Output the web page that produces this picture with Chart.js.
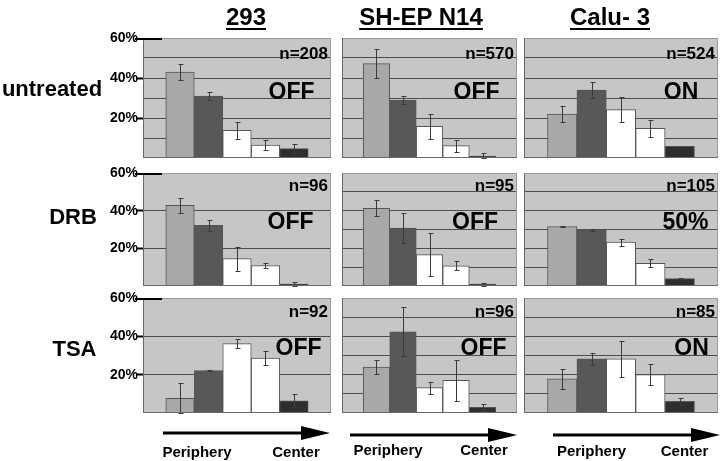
<!DOCTYPE html>
<html>
<head>
<meta charset="utf-8">
<script src="https://cdn.jsdelivr.net/npm/chart.js@4/dist/chart.umd.min.js"></script>
<style>
  html, body { margin: 0; padding: 0; background: #fff; }
  #fig { position: relative; width: 720px; height: 461px; overflow: hidden;
         font-family: "Liberation Sans", Arial, sans-serif; font-weight: bold; color: #000; }
  #fig canvas { position: absolute; }
  .txt { position: absolute; white-space: nowrap; line-height: 1; transform: translate(-50%, -50%); }
  .head { font-size: 24px; text-decoration: underline; text-decoration-thickness: 2px; text-underline-offset: 3px; }
  .row { font-size: 22px; }
  .n { font-size: 17px; }
  .state { font-size: 23px; }
  .axis { font-size: 15px; }
  svg { position: absolute; left: 0; top: 0; }
</style>
</head>
<body>
<div id="fig"></div>
<script>
// bins run from the periphery of the nucleus to its center
const bins = [0, 1, 2, 3, 4];
const cellLines = ['293', 'SH-EP N14', 'Calu- 3'];
const treatments = ['untreated', 'DRB', 'TSA'];
const binColors = ['#a8a8a8', '#585858', '#ffffff', '#ffffff', '#2e2e2e'];

// percent of signals per bin, and error
const untreated293 = [43, 31, 13.8, 6.5, 4.7];
const untreated293Err = [4, 2.2, 4.2, 2.5, 2.3];
const untreatedSHEP = [47.2, 29, 15.8, 6.2, 1];
const untreatedSHEPErr = [7.2, 1.9, 6.4, 3, 1.5];
const untreatedCalu = [22, 34, 24.2, 14.8, 5.8];
const untreatedCaluErr = [3.9, 4.2, 6.2, 4.2, 0];

const drb293 = [42.8, 32.2, 14.5, 10.8, 1];
const drb293Err = [4, 2.8, 6.4, 1.4, 1];
const drbSHEP = [41.2, 30.7, 16.7, 10.7, 1];
const drbSHEPErr = [4.2, 8, 11.4, 2.4, 0.8];
const drbCalu = [31.6, 29.8, 23.3, 12.1, 3.9];
const drbCaluErr = [0.3, 0.4, 1.8, 2, 0.3];

const tsa293 = [7.7, 22.1, 36.2, 28.7, 6.4];
const tsa293Err = [7.8, 0.4, 2.4, 3.8, 3.4];
const tsaSHEP = [24, 42.4, 13.2, 17, 3];
const tsaSHEPErr = [3.9, 12.7, 3.2, 10.5, 1.8];
const tsaCalu = [17.8, 28.2, 28.2, 20, 6.1];
const tsaCaluErr = [5.4, 3.1, 9.6, 5.6, 1.7];

const nUntreated = [208, 570, 524];
const nDRB = [96, 95, 105];
const nTSA = [92, 96, 85];
const stateUntreated = ['OFF', 'OFF', 'ON'];
const stateDRB = ['OFF', 'OFF', '50%'];
const stateTSA = ['OFF', 'OFF', 'ON'];

const yMax = 60;
const yStep = 10;

const rows = [
  { vals: [untreated293, untreatedSHEP, untreatedCalu], errs: [untreated293Err, untreatedSHEPErr, untreatedCaluErr], n: nUntreated, state: stateUntreated },
  { vals: [drb293, drbSHEP, drbCalu], errs: [drb293Err, drbSHEPErr, drbCaluErr], n: nDRB, state: stateDRB },
  { vals: [tsa293, tsaSHEP, tsaCalu], errs: [tsa293Err, tsaSHEPErr, tsaCaluErr], n: nTSA, state: stateTSA }
];

// panel geometry
const panelLeft = [143, 342, 524];
const panelRight = [331, 517, 718];
const panelTop = [38, 173, 298];
const panelBottom = [158, 286, 413];
const axisW = 43;
const pad = 10;

const fig = document.getElementById('fig');

function addText(cls, text, x, y) {
  const d = document.createElement('div');
  d.className = 'txt ' + cls;
  d.textContent = text;
  d.style.left = x + 'px';
  d.style.top = y + 'px';
  fig.appendChild(d);
}

const panelBg = {
  id: 'panelBg',
  beforeDraw(chart) {
    const { ctx, chartArea: a } = chart;
    ctx.save();
    ctx.fillStyle = '#c6c6c6';
    ctx.fillRect(a.left, a.top, a.right - a.left, a.bottom - a.top);
    ctx.restore();
  },
  afterDraw(chart, args, opts) {
    const { ctx, chartArea: a } = chart;
    ctx.save();
    ctx.lineWidth = 1;
    ctx.strokeStyle = '#9a9a9a';
    ctx.beginPath();
    ctx.moveTo(a.left, a.top + 0.5); ctx.lineTo(a.right, a.top + 0.5);
    ctx.moveTo(a.right - 0.5, a.top); ctx.lineTo(a.right - 0.5, a.bottom);
    ctx.stroke();
    ctx.strokeStyle = '#6a6a6a';
    ctx.beginPath();
    ctx.moveTo(a.left + 0.5, a.top); ctx.lineTo(a.left + 0.5, a.bottom);
    ctx.moveTo(a.left, a.bottom - 0.5); ctx.lineTo(a.right, a.bottom - 0.5);
    ctx.stroke();
    if (opts.firstCol) {
      // long 60% tick
      ctx.strokeStyle = '#000';
      ctx.lineWidth = 2;
      ctx.beginPath();
      ctx.moveTo(a.left - 8, a.top + 1); ctx.lineTo(a.left + 19, a.top + 1);
      ctx.stroke();
    }
    ctx.restore();
  }
};

const errorBars = {
  id: 'errorBars',
  afterDatasetsDraw(chart, args, opts) {
    const { ctx, scales: { x, y } } = chart;
    const pts = chart.data.datasets[0].data;
    ctx.save();
    ctx.strokeStyle = '#3a3a3a';
    ctx.lineWidth = 1;
    opts.err.forEach((e, i) => {
      if (!e) return;
      const px = Math.round(x.getPixelForValue(pts[i].x)) + 0.5;
      const v = pts[i].y;
      const top = Math.round(y.getPixelForValue(v + e)) + 0.5;
      const bot = Math.round(y.getPixelForValue(Math.max(v - e, 0))) + 0.5;
      ctx.beginPath();
      ctx.moveTo(px, top); ctx.lineTo(px, bot);
      ctx.moveTo(px - 2, top); ctx.lineTo(px + 3, top);
      ctx.moveTo(px - 2, bot); ctx.lineTo(px + 3, bot);
      ctx.stroke();
    });
    ctx.restore();
  }
};

rows.forEach((row, r) => {
  row.vals.forEach((vals, c) => {
    const first = c === 0;
    const left = first ? panelLeft[c] - axisW : panelLeft[c];
    const w = panelRight[c] - left;
    const h = panelBottom[r] - panelTop[r] + pad * 2;
    const cv = document.createElement('canvas');
    cv.width = w; cv.height = h;
    cv.style.left = left + 'px';
    cv.style.top = (panelTop[r] - pad) + 'px';
    cv.style.width = w + 'px'; cv.style.height = h + 'px';
    fig.appendChild(cv);

    new Chart(cv, {
      type: 'bar',
      data: {
        datasets: [{
          data: bins.map((b, i) => ({ x: b, y: vals[i] })),
          backgroundColor: binColors,
          borderColor: '#555',
          borderWidth: 1,
          categoryPercentage: 1,
          barPercentage: 1
        }]
      },
      options: {
        responsive: false,
        animation: false,
        devicePixelRatio: 1,
        layout: { padding: { top: pad, bottom: pad, left: 0, right: 0 } },
        plugins: {
          legend: { display: false },
          tooltip: { enabled: false },
          errorBars: { err: row.errs[c] },
          panelBg: { firstCol: first }
        },
        scales: {
          x: { type: 'linear', min: -1.3, max: 5.3, offset: false, display: false },
          y: {
            min: 0,
            max: yMax,
            ticks: {
              stepSize: yStep,
              display: first,
              padding: -2,
              color: '#000',
              font: { family: 'Liberation Sans', weight: 'bold', size: 14 },
              callback: v => (v > 0 && v % 20 === 0) ? v + '%' : ''
            },
            grid: {
              color: ctx => (ctx.tick && (ctx.tick.value === 0 || ctx.tick.value === yMax)) ? 'rgba(0,0,0,0)' : '#4d4d4d',
              lineWidth: 1,
              drawTicks: first,
              tickLength: 7,
              tickWidth: 2,
              tickColor: ctx => (ctx.tick && ctx.tick.value > 0 && ctx.tick.value < yMax && ctx.tick.value % 20 === 0) ? '#000' : 'rgba(0,0,0,0)'
            },
            border: { display: false },
            afterFit: s => { s.width = first ? axisW : 0; }
          }
        }
      },
      plugins: [panelBg, errorBars]
    });

    // n annotation, right aligned in the panel
    const nd = document.createElement('div');
    nd.className = 'txt n';
    nd.textContent = 'n=' + row.n[c];
    nd.style.left = (panelRight[c] - 3) + 'px';
    nd.style.top = (panelTop[r] + [14.5, 12, 12.5][r]) + 'px';
    nd.style.transform = 'translate(-100%, -50%)';
    fig.appendChild(nd);
  });
});

// status labels (centre positions)
const stateX = [[291.5, 476.5, 681], [290.5, 475, 685.5], [298.5, 483.5, 691.5]];
const stateY = [90.5, 221, 347];
rows.forEach((row, r) => row.state.forEach((s, c) => addText('state', s, stateX[r][c], stateY[r])));

// column and row titles
[246, 421, 610].forEach((x, c) => addText('head', cellLines[c], x, 17));
[[52, 88.5], [73, 216.5], [74.5, 348.5]].forEach((p, r) => addText('row', treatments[r], p[0], p[1]));

// periphery -> center arrows
const arrows = [[163, 330, 433], [350, 517, 435], [553, 720, 435]];
let svg = '<svg width="720" height="461" xmlns="http://www.w3.org/2000/svg">';
arrows.forEach(([x1, x2, y]) => {
  const hb = x2 - 29;
  svg += `<line x1="${x1}" y1="${y}" x2="${hb}" y2="${y}" stroke="#000" stroke-width="3"/>`;
  svg += `<polygon points="${hb},${y - 7} ${x2},${y} ${hb},${y + 7}" fill="#000"/>`;
});
svg += '</svg>';
fig.insertAdjacentHTML('afterbegin', svg);
[[197, 296, 450.5], [388, 484, 448.5], [591.5, 684.5, 450]].forEach(([xp, xc, y]) => {
  addText('axis', 'Periphery', xp, y);
  addText('axis', 'Center', xc, y);
});
</script>
</body>
</html>
